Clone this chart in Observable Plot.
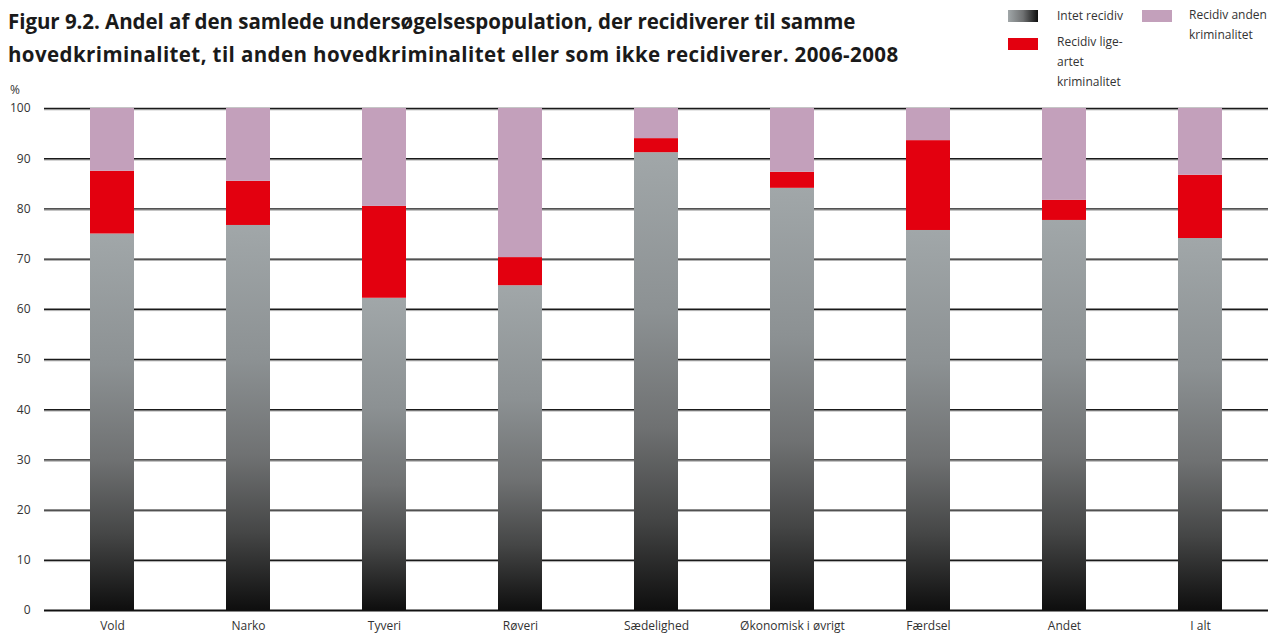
<!DOCTYPE html>
<html>
<head>
<meta charset="utf-8">
<script src="https://cdn.jsdelivr.net/npm/d3@7"></script>
<script src="https://cdn.jsdelivr.net/npm/@observablehq/plot@0.6"></script>
<style>
  body { margin: 0; background: #fff; font-family: "Open Sans", sans-serif; }
  #wrap { position: relative; width: 1282px; height: 636px; overflow: hidden; }
  #title { position: absolute; z-index: 2; left: 8px; top: 5px; font-family: "Open Sans", sans-serif; font-weight: 700; font-size: 20.5px; line-height: 33px; color: #1a1a1a; white-space: nowrap; }
  #title span { display: block; }
  #pct { position: absolute; z-index: 2; left: 10px; top: 81px; font-size: 12px; color: #333; }
  .leg { position: absolute; z-index: 2; font-size: 12px; line-height: 20px; color: #333; }
  .sw { position: absolute; z-index: 2; width: 30px; height: 12px; }
  #chart { position: absolute; z-index: 1; left: 0; top: 80px; }
</style>
</head>
<body>
<div id="wrap">
  <div id="title"><span style="letter-spacing:-0.05px">Figur 9.2. Andel af den samlede undersøgelsespopulation, der recidiverer til samme</span><span style="letter-spacing:0.4px">hovedkriminalitet, til anden hovedkriminalitet eller som ikke recidiverer. 2006-2008</span></div>
  <div class="sw" style="left:1008px;top:10px;background:linear-gradient(to right,#a1a7a9,#6f7172,#0e0e0e);"></div>
  <div class="leg" style="left:1057px;top:6px;">Intet recidiv</div>
  <div class="sw" style="left:1008px;top:38px;background:#e3000f;"></div>
  <div class="leg" style="left:1057px;top:32px;">Recidiv lige-<br>artet<br>kriminalitet</div>
  <div class="sw" style="left:1142px;top:10px;background:#c3a0bb;"></div>
  <div class="leg" style="left:1189px;top:5px;">Recidiv anden<br>kriminalitet</div>
  <div id="pct">%</div>
  <div id="chart"></div>
</div>
<script>
const categories = ["Vold", "Narko", "Tyveri", "Røveri", "Sædelighed", "Økonomisk i øvrigt", "Færdsel", "Andet", "I alt"];
const intetRecidiv = [75.0, 76.7, 62.2, 64.7, 91.2, 84.1, 75.7, 77.7, 74.1];
const recidivLigeartet = [12.5, 8.8, 18.3, 5.6, 2.8, 3.2, 17.9, 4.0, 12.6];
const recidivAnden = [12.5, 14.5, 19.5, 29.7, 6.0, 12.7, 6.4, 18.3, 13.3];
const seriesNames = ["Intet recidiv", "Recidiv ligeartet kriminalitet", "Recidiv anden kriminalitet"];
const yTicks = [0, 10, 20, 30, 40, 50, 60, 70, 80, 90, 100];

const rows = [];
categories.forEach((c, i) => {
  rows.push({cat: c, series: seriesNames[0], value: intetRecidiv[i]});
  rows.push({cat: c, series: seriesNames[1], value: recidivLigeartet[i]});
  rows.push({cat: c, series: seriesNames[2], value: recidivAnden[i]});
});

const chart = Plot.plot({
  width: 1282,
  height: 556,
  marginTop: 28,
  marginBottom: 26,
  marginLeft: 44,
  marginRight: 14,
  style: {fontFamily: "'Open Sans', sans-serif", fontSize: "12px", color: "#333", background: "transparent"},
  x: {domain: categories, paddingInner: 0.676, paddingOuter: 0.338, label: null, tickSize: 0, tickPadding: 11},
  y: {domain: [0, 100], ticks: yTicks, label: null, tickSize: 0, tickPadding: 14},
  color: {domain: seriesNames, range: ["url(#barGrad)", "#e3000f", "#c3a0bb"]},
  marks: [
    Plot.ruleY(yTicks.filter(d => d > 0), {stroke: "#aaa", strokeWidth: 1, dy: 1.3}),
    Plot.ruleY(yTicks.filter(d => d > 0), {stroke: "#1a1a1a", strokeWidth: 1.4}),
    Plot.barY(rows, Plot.stackY({x: "cat", y: "value", fill: "series", order: seriesNames, inset: 0})),
    Plot.ruleY([0], {stroke: "#111", strokeWidth: 2})
  ]
});

const svg = d3.select(chart);
const defs = svg.insert("defs", ":first-child");
const g = defs.append("linearGradient").attr("id", "barGrad")
  .attr("x1", 0).attr("y1", 0).attr("x2", 0).attr("y2", 1);
[[0, "#a1a7a9"], [0.35, "#8c9193"], [0.6, "#6f7172"], [0.8, "#454646"], [1, "#0e0e0e"]]
  .forEach(([o, c]) => g.append("stop").attr("offset", o).attr("stop-color", c));

document.getElementById("chart").appendChild(chart);
</script>
</body>
</html>
